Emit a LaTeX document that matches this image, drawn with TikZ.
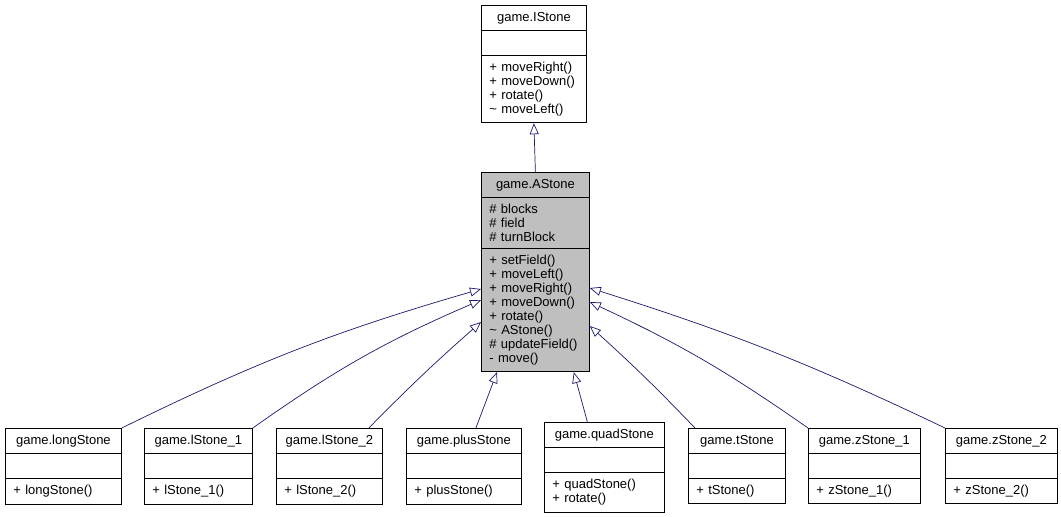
\documentclass[tikz,border=0pt]{standalone}
\usepackage{fontspec}
\setmainfont{Liberation Sans}
\usepackage{tikz}
\usetikzlibrary{shapes.multipart}
\usetikzlibrary{arrows.meta}

\definecolor{edgeblue}{HTML}{191970}
\definecolor{basegray}{HTML}{BFBFBF}
\newcommand{\noattr}{\vphantom{Ag}}
\newcommand{\clsname}[1]{\noindent\hskip0pt plus1filll#1\hskip0pt plus1filll\null}

\begin{document}
\begin{tikzpicture}[x=1pt,y=-1pt,
  cls/.style={rectangle split,rectangle split parts=3,draw=black,line width=.8pt,anchor=north west,
    align=left,inner xsep=8pt,inner ysep=6.25pt,font=\fontsize{13}{14}\selectfont,text width=#1},
  isa/.style={edgeblue,line width=.7pt,-{Triangle[open,length=11pt,width=9pt]}}]
  \useasboundingbox (0,0) rectangle (1061,517);
  \node[cls=89pt] (istone) at (481,5) {\clsname{game.IStone}
    \nodepart{two}\noattr
    \nodepart{three}+ moveRight()\\ + moveDown()\\ + rotate()\\ \textasciitilde{} moveLeft()};
  \node[cls=92pt,fill=basegray] (astone) at (481,172) {\clsname{game.AStone}
    \nodepart{two}\# blocks\\ \# field\\ \# turnBlock
    \nodepart{three}+ setField()\\ + moveLeft()\\ + moveRight()\\ + moveDown()\\ + rotate()\\ \textasciitilde{} AStone()\\ \# updateField()\\ - move()};
  \node[cls=100pt] (longstone) at (5,428) {\clsname{game.longStone} \nodepart{two}\noattr \nodepart{three}+ longStone()};
  \node[cls=92pt] (lstone1) at (144,428) {\clsname{game.lStone\_1} \nodepart{two}\noattr \nodepart{three}+ lStone\_1()};
  \node[cls=90pt] (lstone2) at (276,428) {\clsname{game.lStone\_2} \nodepart{two}\noattr \nodepart{three}+ lStone\_2()};
  \node[cls=99pt] (plusstone) at (406,428) {\clsname{game.plusStone} \nodepart{two}\noattr \nodepart{three}+ plusStone()};
  \node[cls=104pt] (quadstone) at (544,422) {\clsname{game.quadStone} \nodepart{two}\noattr \nodepart{three}+ quadStone()\\ + rotate()};
  \node[cls=81pt] (tstone) at (688,428) {\clsname{game.tStone} \nodepart{two}\noattr \nodepart{three}+ tStone()};
  \node[cls=96pt] (zstone1) at (808,428) {\clsname{game.zStone\_1} \nodepart{two}\noattr \nodepart{three}+ zStone\_1()};
  \node[cls=96pt] (zstone2) at (945,428) {\clsname{game.zStone\_2} \nodepart{two}\noattr \nodepart{three}+ zStone\_2()};

  \draw[isa] (astone.north) -- (istone.south);
  \draw[isa] (longstone.north east) to[bend left=5] ([yshift=-117pt]astone.north west);
  \draw[isa] (lstone1.north east) to[bend left=6] ([yshift=-128pt]astone.north west);
  \draw[isa] ([xshift=-14pt]lstone2.north east) to[bend left=2] ([yshift=-150pt]astone.north west);
  \draw[isa] ([xshift=12pt]plusstone.north) -- ([xshift=16pt]astone.south west);
  \draw[isa] ([xshift=-17pt]quadstone.north) -- ([xshift=-16pt]astone.south east);
  \draw[isa] ([xshift=7pt]tstone.north west) to[bend right=2] ([yshift=-154pt]astone.north east);
  \draw[isa] (zstone1.north west) to[bend right=5] ([yshift=-130pt]astone.north east);
  \draw[isa] (zstone2.north west) to[bend right=4] ([yshift=-116pt]astone.north east);
\end{tikzpicture}
\end{document}
